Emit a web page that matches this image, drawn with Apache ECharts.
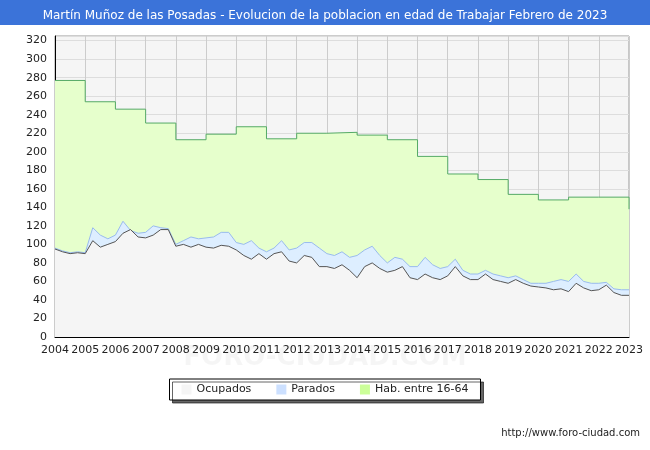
<!DOCTYPE html>
<html><head><meta charset="utf-8">
<script src="https://cdn.jsdelivr.net/npm/echarts@6/dist/echarts.min.js"></script>
<style>html,body{margin:0;padding:0;background:#fff}#c{width:650px;height:450px}</style>
</head><body><div id="c"></div>
<script>
const habYears=[2004,2005,2006,2007,2008,2009,2010,2011,2012,2013,2014,2015,2016,2017,2018,2019,2020,2021,2022,2023];
const habValues=[277,254,246,231,213,219,227,214,220,221,218,213,195,176,170,154,148,151,151,138];
// quarterly readings, starting 2004 Q1, ending 2023 Q1
const ocupados=[95,92,90,91, 90,104,97,100, 103,112,116,108, 107,110,116,116, 98,100,97,100, 97,96,99,98, 94,88,84,90, 84,90,92,82, 80,88,86,76, 76,74,78,72, 64,76,80,74, 70,72,76,64, 62,68,64,62, 66,76,66,62, 62,68,62,60, 58,62,58,55, 54,53,51,52, 49,58,53,50, 51,56,48,45, 45];
const ocupadosMasParados=[96,93,91,92, 91,118,110,106, 110,125,115,112, 113,120,118,117, 100,104,108,106, 107,108,113,113, 102,100,104,96, 92,96,104,94, 96,102,102,96, 90,88,92,86, 88,94,98,88, 80,86,84,76, 76,86,78,74, 76,84,72,68, 68,72,68,66, 64,66,62,58, 58,58,60,62, 60,68,60,58, 58,59,52,51, 51];
const startYear=2004, stepsPerYear=4;
const ocData=ocupados.map((v,i)=>[startYear+i/stepsPerYear,v]);
const topData=ocupadosMasParados.map((v,i)=>[startYear+i/stepsPerYear,v]);
const habData=habYears.map((y,i)=>[y,habValues[i]]);
const chart=echarts.init(document.getElementById('c'));
chart.setOption({
  animation:false,
  title:{text:'Martín Muñoz de las Posadas - Evolucion de la poblacion en edad de Trabajar Febrero de 2023',left:'center',top:5,textStyle:{color:'#fff',fontSize:12,fontWeight:'normal',fontFamily:'DejaVu Sans'}},
  graphic:[
    {type:'rect',z:-1,shape:{x:0,y:0,width:650,height:25},style:{fill:'#3b73d9'}},
    {type:'text',right:10,bottom:12,style:{text:'http://www.foro-ciudad.com',fontSize:10,fontFamily:'DejaVu Sans',fill:'#222'}},
    {type:'text',left:'center',top:345,z:0,style:{text:'FORO-CIUDAD.COM',fontSize:26,fontWeight:'bold',fontFamily:'DejaVu Sans',fill:'rgba(0,0,0,0.04)'}}
  ],
  legend:{bottom:50,left:'center',itemWidth:10,itemHeight:10,itemGap:25,borderColor:'#000',borderWidth:1,padding:[5,12],
    shadowColor:'rgba(0,0,0,0.6)',shadowOffsetX:3,shadowOffsetY:3,shadowBlur:0,backgroundColor:'#fff',
    textStyle:{fontSize:11,fontFamily:'DejaVu Sans',color:'#222'},
    data:[{name:'Ocupados',icon:'rect'},{name:'Parados',icon:'rect'},{name:'Hab. entre 16-64',icon:'rect'}]},
  grid:{left:55,right:21,top:36,bottom:113,show:true,borderColor:'#999',backgroundColor:'#f5f5f5'},
  xAxis:{type:'value',min:2004,max:2023,interval:1,
    axisLine:{show:true,lineStyle:{color:'#000'}},axisTick:{show:false},
    axisLabel:{fontSize:11,fontFamily:'DejaVu Sans',color:'#222',showMinLabel:true,showMaxLabel:true,hideOverlap:false,formatter:v=>String(v)},
    splitLine:{show:true,lineStyle:{color:'#ccc'}}},
  yAxis:{type:'value',min:0,max:325,interval:20,
    axisLine:{show:true,lineStyle:{color:'#000'}},axisTick:{show:false},
    axisLabel:{fontSize:11,fontFamily:'DejaVu Sans',color:'#222',formatter:v=>v%20===0?String(v):''},
    splitLine:{show:true,lineStyle:{color:'#ddd'}}},
  series:[
    {name:'Hab. entre 16-64',type:'line',step:'end',data:habData,symbol:'none',
      itemStyle:{color:'#ccff99',borderColor:'#000'},lineStyle:{color:'#55aa66',width:1},areaStyle:{color:'#e6ffcc',opacity:1},z:1},
    {name:'Parados',type:'line',data:topData,symbol:'none',
      itemStyle:{color:'#cce0ff',borderColor:'#000'},lineStyle:{color:'#99bbee',width:1},areaStyle:{color:'#ddeeff',opacity:1},z:2},
    {name:'Ocupados',type:'line',data:ocData,symbol:'none',
      itemStyle:{color:'#f5f5f5',borderColor:'#000'},lineStyle:{color:'#555',width:1},areaStyle:{color:'#f5f5f5',opacity:1},z:3}
  ]
});
</script></body></html>
